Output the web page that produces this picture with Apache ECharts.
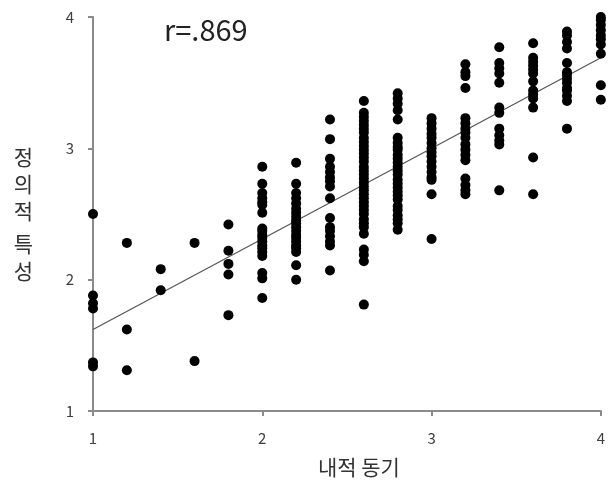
<!DOCTYPE html>
<html>
<head>
<meta charset="utf-8">
<script src="https://cdn.jsdelivr.net/npm/echarts@6/dist/echarts.min.js"></script>
<style>
html, body { margin: 0; padding: 0; background: #fff; }
#main { width: 608px; height: 484px; }
</style>
</head>
<body>
<div id="main"></div>
<script>
// 내적 동기 수준 (x)
var xLevels = [1, 1.2, 1.4, 1.6, 1.8, 2, 2.2, 2.4, 2.6, 2.8, 3, 3.2, 3.4, 3.6, 3.8, 4];
// 각 수준별 정의적 특성 값 (y)
var yAt1 = [2.5, 1.88, 1.82, 1.78, 1.37, 1.34];
var yAt12 = [2.28, 1.62, 1.31];
var yAt14 = [2.08, 1.92];
var yAt16 = [2.28, 1.38];
var yAt18 = [2.42, 2.22, 2.12, 2.04, 1.73];
var yAt2 = [2.86, 2.73, 2.66, 2.62, 2.59, 2.57, 2.51, 2.39, 2.37, 2.34, 2.32, 2.29, 2.26, 2.24, 2.21, 2.18, 2.05, 2.01, 1.86];
var yAt22 = [2.89, 2.73, 2.66, 2.62, 2.58, 2.54, 2.51, 2.48, 2.45, 2.43, 2.4, 2.37, 2.34, 2.32, 2.29, 2.26, 2.24, 2.21, 2.11, 2.0];
var yAt24 = [3.22, 3.07, 2.92, 2.86, 2.82, 2.78, 2.75, 2.71, 2.62, 2.47, 2.4, 2.37, 2.33, 2.29, 2.26, 2.07];
var yAt26 = [3.36, 3.27, 3.24, 3.21, 3.18, 3.15, 3.12, 3.08, 3.05, 3.02, 2.99, 2.96, 2.93, 2.9, 2.86, 2.83, 2.8, 2.77, 2.74, 2.71, 2.68, 2.65, 2.62, 2.59, 2.56, 2.53, 2.5, 2.46, 2.43, 2.4, 2.35, 2.23, 2.19, 2.14, 1.81];
var yAt28 = [3.42, 3.38, 3.34, 3.29, 3.22, 3.08, 3.04, 3.01, 2.99, 2.95, 2.92, 2.89, 2.86, 2.83, 2.8, 2.76, 2.73, 2.7, 2.67, 2.64, 2.61, 2.56, 2.53, 2.49, 2.46, 2.43, 2.38];
var yAt3 = [3.23, 3.19, 3.15, 3.11, 3.08, 3.04, 3.0, 2.97, 2.94, 2.9, 2.86, 2.82, 2.78, 2.76, 2.65, 2.31];
var yAt32 = [3.64, 3.58, 3.55, 3.46, 3.23, 3.19, 3.15, 3.12, 3.08, 3.03, 2.99, 2.95, 2.91, 2.77, 2.72, 2.68, 2.65];
var yAt34 = [3.77, 3.65, 3.61, 3.57, 3.5, 3.31, 3.27, 3.15, 3.1, 3.06, 3.03, 2.68];
var yAt36 = [3.8, 3.69, 3.66, 3.63, 3.6, 3.57, 3.51, 3.44, 3.41, 3.38, 3.31, 2.93, 2.65];
var yAt38 = [3.89, 3.86, 3.81, 3.76, 3.65, 3.58, 3.56, 3.53, 3.5, 3.46, 3.44, 3.4, 3.36, 3.15];
var yAt4 = [4.0, 3.98, 3.94, 3.9, 3.86, 3.83, 3.79, 3.72, 3.48, 3.37];
var yColumns = [yAt1, yAt12, yAt14, yAt16, yAt18, yAt2, yAt22, yAt24, yAt26, yAt28, yAt3, yAt32, yAt34, yAt36, yAt38, yAt4];
// 회귀선 양 끝
var fitLine = [[1, 1.62], [4, 3.69]];
var axisTicks = [1, 2, 3, 4];
var rText = 'r=.869';

var points = [];
xLevels.forEach(function (x, i) {
    yColumns[i].forEach(function (y) {
        points.push([x, y]);
    });
});

var font = '"Noto Sans CJK KR", "Noto Sans", sans-serif';
var axisGray = '#8a8a8a';

var myChart = echarts.init(document.getElementById('main'));
myChart.setOption({
    animation: false,
    grid: { left: 93, right: 5, top: 17, bottom: 73 },
    xAxis: {
        type: 'value',
        min: axisTicks[0],
        max: axisTicks[axisTicks.length - 1],
        interval: 1,
        name: '내적 동기',
        nameLocation: 'middle',
        nameGap: 46,
        nameTextStyle: { fontFamily: font, fontSize: 21, color: '#333', padding: [0, 0, 0, 24] },
        axisLine: { show: true, onZero: false, lineStyle: { color: axisGray, width: 2 } },
        axisTick: { show: true, length: 5, lineStyle: { color: axisGray, width: 2 } },
        axisLabel: { fontFamily: font, fontSize: 15, color: '#404040', margin: 20 },
        splitLine: { show: false }
    },
    yAxis: {
        type: 'value',
        min: axisTicks[0],
        max: axisTicks[axisTicks.length - 1],
        interval: 1,
        name: '{a|정}\n{a|의}\n{a|적}\n{b| }\n{a|특}\n{a|성}',
        nameLocation: 'middle',
        nameRotate: 0,
        nameGap: 60,
        nameTextStyle: {
            fontFamily: font,
            color: '#333',
            rich: {
                a: { fontFamily: font, fontSize: 21, lineHeight: 27, color: '#333' },
                b: { fontSize: 6, lineHeight: 6 }
            }
        },
        axisLine: { show: true, onZero: false, lineStyle: { color: axisGray, width: 2 } },
        axisTick: { show: true, length: 5, lineStyle: { color: axisGray, width: 2 } },
        axisLabel: { fontFamily: font, fontSize: 15, color: '#404040', margin: 19 },
        splitLine: { show: false }
    },
    graphic: [{
        type: 'text',
        left: 164,
        top: 15,
        style: { text: rText, font: '29px ' + font, fill: '#222' }
    }],
    series: [{
        type: 'scatter',
        data: points,
        symbol: 'circle',
        symbolSize: 10,
        itemStyle: { color: '#000', opacity: 1 },
        z: 3
    }, {
        type: 'line',
        data: fitLine,
        symbol: 'none',
        lineStyle: { color: '#555', width: 1.2 },
        z: 2
    }]
});
</script>
</body>
</html>
